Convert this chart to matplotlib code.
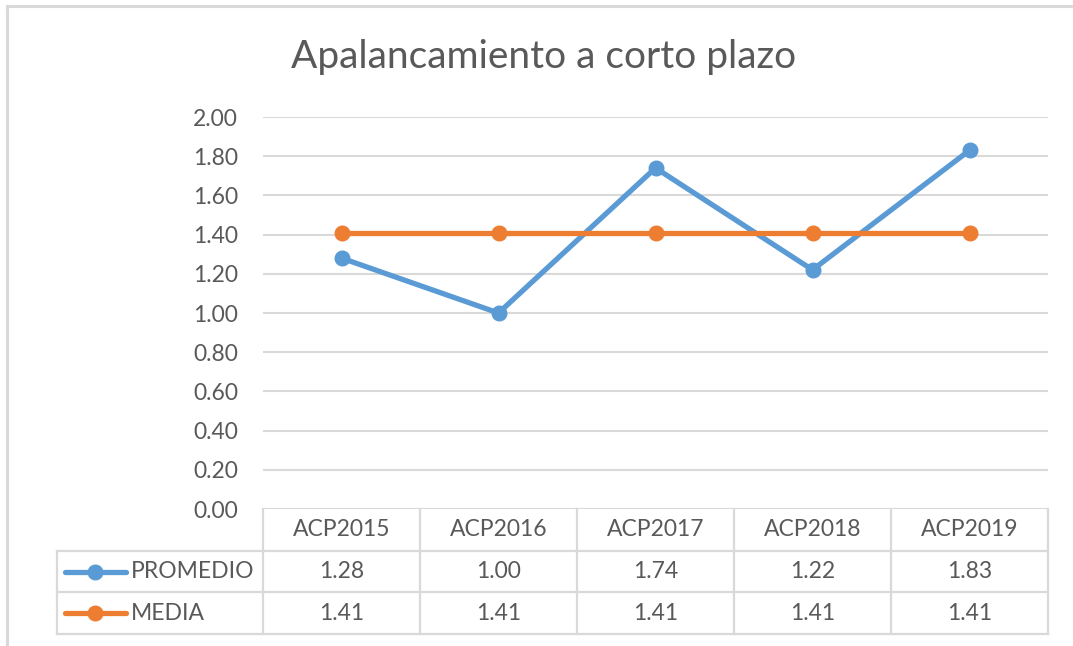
import matplotlib
matplotlib.use("Agg")
import matplotlib.pyplot as plt
from matplotlib.lines import Line2D

categories = ["ACP2015", "ACP2016", "ACP2017", "ACP2018", "ACP2019"]
promedio = [1.28, 1.00, 1.74, 1.22, 1.83]
media = [1.41, 1.41, 1.41, 1.41, 1.41]
series_names = ["PROMEDIO", "MEDIA"]
yticks = [0.0, 0.2, 0.4, 0.6, 0.8, 1.0, 1.2, 1.4, 1.6, 1.8, 2.0]
title = "Apalancamiento a corto plazo"

BLUE = "#5B9BD5"
ORANGE = "#ED7D31"
GRID = "#D9D9D9"
TXT = "#595959"
FONT = "Lato"
FS = 16.5

W, H = 1073, 646
fig = plt.figure(figsize=(W / 100, H / 100), dpi=100)
fig.patch.set_facecolor("white")

# outer chart frame (left and top visible)
fig.add_artist(Line2D([7 / W, 7 / W], [0, 1 - 6 / H], transform=fig.transFigure,
                      color=GRID, lw=2.2))
fig.add_artist(Line2D([7 / W, 1], [1 - 6 / H, 1 - 6 / H], transform=fig.transFigure,
                      color=GRID, lw=2.2))

L, R, T, B = 263, 1048, 117, 509
ax = fig.add_axes([L / W, 1 - B / H, (R - L) / W, (B - T) / H])
x = list(range(len(categories)))
ax.set_xlim(-0.5, len(categories) - 0.5)
ax.set_ylim(0, 2.0)
ax.set_yticks(yticks)
ax.set_yticklabels([f"{v:.2f}" for v in yticks], fontsize=FS, color=TXT, family=FONT)
ax.tick_params(axis="y", length=0, pad=18)
ax.set_xticks([])
for s in ax.spines.values():
    s.set_visible(False)
for v in yticks:
    ax.axhline(v, color=GRID, lw=1.5, zorder=0)

ax.plot(x, promedio, color=BLUE, lw=3.8, marker="o", ms=10.5, zorder=3,
        solid_capstyle="round")
ax.plot(x, media, color=ORANGE, lw=3.8, marker="o", ms=10.5, zorder=4,
        solid_capstyle="round")

fig.text(544 / W, 1 - 57 / H, title, ha="center", va="center", fontsize=28,
         color=TXT, family=FONT)

# data table below the axes (axes coordinates)
def axx(px):
    return (px - L) / (R - L)

def axy(py):
    return (B - py) / (B - T)

tr = ax.transAxes
col_edges = [263, 420, 577, 734, 891, 1048]
row_edges = [509, 551, 592, 634]
lk = dict(transform=tr, color=GRID, lw=1.6, clip_on=False)
for cx in col_edges:
    ax.add_line(Line2D([axx(cx)] * 2, [axy(509), axy(634)], **lk))
ax.add_line(Line2D([axx(57)] * 2, [axy(551), axy(634)], **lk))
for ry in row_edges[1:]:
    ax.add_line(Line2D([axx(57), axx(1048)], [axy(ry)] * 2, **lk))

tk = dict(transform=tr, ha="center", va="center", fontsize=FS, color=TXT,
          family=FONT, clip_on=False)
for i, c in enumerate(categories):
    cxm = (col_edges[i] + col_edges[i + 1]) / 2
    ax.text(axx(cxm), axy(530), c, **tk)
    ax.text(axx(cxm), axy(572), f"{promedio[i]:.2f}", **tk)
    ax.text(axx(cxm), axy(613), f"{media[i]:.2f}", **tk)

for ry, name, col in [(572, series_names[0], BLUE), (613, series_names[1], ORANGE)]:
    ax.add_line(Line2D([axx(65), axx(126)], [axy(ry)] * 2, transform=tr, color=col,
                       lw=3.8, solid_capstyle="round", clip_on=False))
    ax.add_line(Line2D([axx(95)], [axy(ry)], transform=tr, color=col, marker="o",
                       ms=10.5, clip_on=False))
    ax.text(axx(131), axy(ry), name, transform=tr, ha="left", va="center",
            fontsize=FS, color=TXT, family=FONT, clip_on=False)

fig.savefig("out.png", dpi=100, facecolor="white")
